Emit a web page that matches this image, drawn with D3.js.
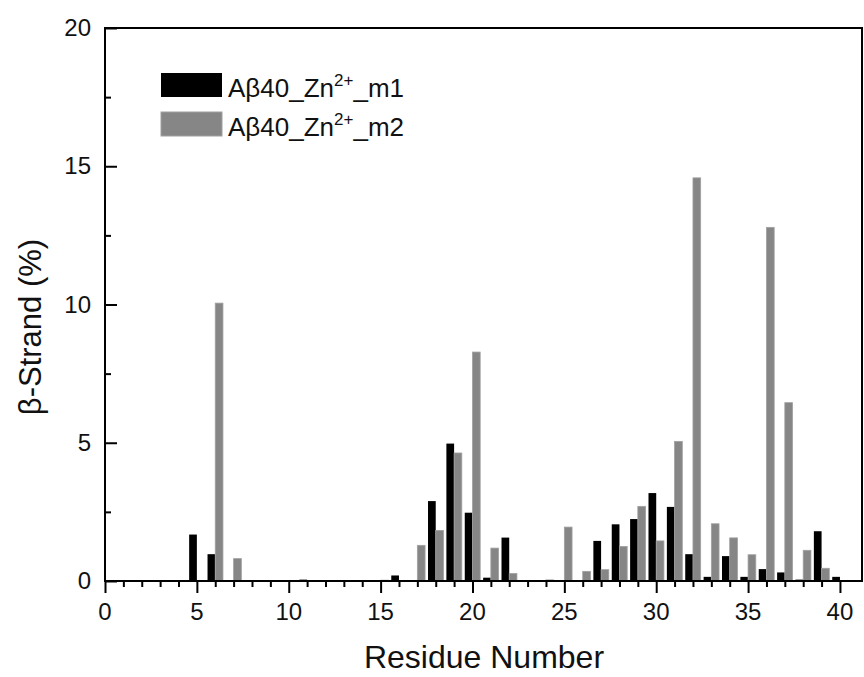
<!DOCTYPE html>
<html>
<head>
<meta charset="utf-8">
<script src="https://cdn.jsdelivr.net/npm/d3@7"></script>
<style>
  body { margin: 0; background: #fff; }
  text { font-family: "Liberation Sans", Arial, sans-serif; fill: #111; }
</style>
</head>
<body>
<div id="chart"></div>
<script>
const residues = d3.range(1, 41);
const m1 = [0, 0, 0, 0, 1.68, 0.97, 0, 0, 0, 0,
            0.05, 0, 0, 0, 0, 0.2, 0, 2.89, 4.97, 2.47,
            0.12, 1.57, 0, 0, 0, 0, 1.45, 2.05, 2.24, 3.18,
            2.68, 0.97, 0.15, 0.9, 0.15, 0.43, 0.31, 0.05, 1.8, 0.15];
const m2 = [0, 0, 0, 0, 0, 10.05, 0.81, 0, 0, 0,
            0, 0, 0, 0, 0.03, 0, 1.29, 1.83, 4.63, 8.28,
            1.19, 0.27, 0, 0.04, 1.95, 0.35, 0.41, 1.25, 2.7, 1.45,
            5.05, 14.58, 2.07, 1.56, 0.95, 12.79, 6.45, 1.11, 0.46, 0];
const seriesNames = ['m1', 'm2'];
const xTicks = [0, 5, 10, 15, 20, 25, 30, 35, 40];
const yTicks = [0, 5, 10, 15, 20];

const width = 864, height = 677;
const margin = {top: 28, right: 2, bottom: 96, left: 105};

const svg = d3.select('#chart').append('svg')
    .attr('width', width)
    .attr('height', height);

const x = d3.scaleLinear().domain([0, 41.2]).range([margin.left, width - margin.right]);
const y = d3.scaleLinear().domain([0, 20]).range([height - margin.bottom, margin.top]);
const barW = 0.42;
const colors = {m1: '#000000', m2: '#868686'};

// bars
const data = residues.map((r, i) => ({r, m1: m1[i], m2: m2[i]}));
svg.append('g').selectAll('rect.m1')
    .data(data.filter(d => d.m1 > 0))
    .enter().append('rect')
    .attr('x', d => x(d.r - barW))
    .attr('width', x(barW) - x(0))
    .attr('y', d => y(d.m1))
    .attr('height', d => y(0) - y(d.m1))
    .style('fill', colors.m1);

svg.append('g').selectAll('rect.m2')
    .data(data.filter(d => d.m2 > 0))
    .enter().append('rect')
    .attr('x', d => x(d.r))
    .attr('width', x(barW) - x(0))
    .attr('y', d => y(d.m2))
    .attr('height', d => y(0) - y(d.m2))
    .style('fill', colors.m2)
    .style('stroke', '#a0a0a0')
    .style('stroke-width', 0.8);

// x axis: outward ticks
const xAxis = svg.append('g')
    .attr('transform', `translate(0,${y(0)})`)
    .call(d3.axisBottom(x).tickValues(d3.range(0, 41)).tickSize(6).tickFormat(''));
xAxis.selectAll('.tick line')
    .attr('y2', d => d % 5 === 0 ? 12 : 6)
    .style('stroke-width', 2);
xAxis.select('.domain').remove();
svg.append('g').selectAll('text.xl')
    .data(xTicks)
    .enter().append('text')
    .attr('x', d => x(d))
    .attr('y', y(0) + 39)
    .attr('text-anchor', 'middle')
    .style('font-size', '24px')
    .text(d => d);

// y axis: inward ticks
const yAxis = svg.append('g')
    .attr('transform', `translate(${margin.left},0)`)
    .call(d3.axisRight(y).tickValues(d3.range(0, 20.1, 2.5)).tickSize(6).tickFormat(''));
yAxis.selectAll('.tick line')
    .attr('x2', d => d % 5 === 0 ? 12 : 6)
    .style('stroke-width', 2);
yAxis.select('.domain').remove();
svg.append('g').selectAll('text.yl')
    .data(yTicks)
    .enter().append('text')
    .attr('x', margin.left - 14)
    .attr('y', d => y(d) + 8)
    .attr('text-anchor', 'end')
    .style('font-size', '24px')
    .text(d => d);

// frame
svg.append('rect')
    .attr('x', margin.left)
    .attr('y', margin.top)
    .attr('width', width - margin.right - margin.left)
    .attr('height', y(0) - margin.top)
    .style('fill', 'none')
    .style('stroke', '#000')
    .style('stroke-width', 2);

// axis titles
svg.append('text')
    .attr('x', 484)
    .attr('y', 668)
    .attr('text-anchor', 'middle')
    .style('font-size', '32px')
    .text('Residue Number');

svg.append('text')
    .attr('transform', `translate(41,327) rotate(-90)`)
    .attr('text-anchor', 'middle')
    .style('font-size', '31px')
    .text('β-Strand (%)');

// legend
const legend = svg.append('g');
seriesNames.forEach((s, i) => {
    const ly = 73 + i * 39;
    legend.append('rect')
        .attr('x', 161)
        .attr('y', ly)
        .attr('width', 61)
        .attr('height', 24)
        .style('fill', colors[s])
        .style('stroke', s === 'm2' ? '#a0a0a0' : 'none');
    const t = legend.append('text')
        .attr('x', 228)
        .attr('y', ly + 24)
        .style('font-size', '26px');
    t.append('tspan').text('Aβ40_Zn');
    t.append('tspan').attr('dy', -11).style('font-size', '17px').text('2+');
    t.append('tspan').attr('dy', 11).text('_' + s);
});
</script>
</body>
</html>
